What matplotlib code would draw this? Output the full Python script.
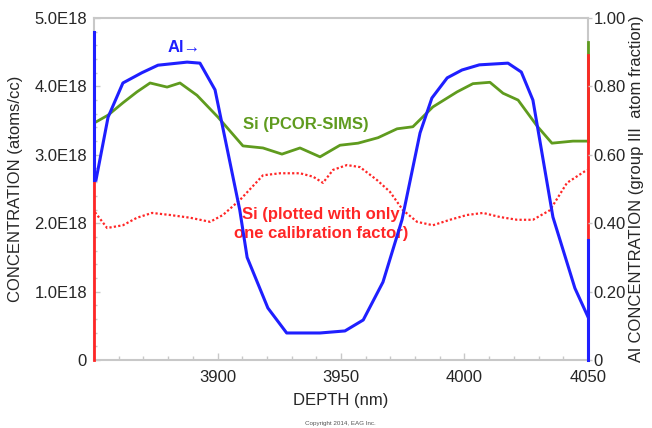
import matplotlib
matplotlib.use("Agg")
import matplotlib.pyplot as plt
from matplotlib.ticker import FixedLocator, MultipleLocator

plt.rcParams['font.family'] = ['Liberation Sans', 'DejaVu Sans']

# Al atom fraction (group III), right axis
al_depth = [3850.8, 3855.7, 3861.7, 3869.4, 3875.9, 3887.7, 3892.9, 3899.0,
            3909.0, 3912.0, 3920.4, 3928.0, 3941.5, 3951.6, 3959.0, 3967.0,
            3974.7, 3982.0, 3986.8, 3993.0, 3999.0, 4006.0, 4017.6, 4023.0,
            4027.7, 4035.8, 4044.7, 4050.0]
al_frac = [0.526, 0.71, 0.81, 0.84, 0.862, 0.871, 0.868, 0.79,
           0.439, 0.30, 0.152, 0.079, 0.079, 0.085, 0.117, 0.228,
           0.41, 0.664, 0.766, 0.825, 0.848, 0.863, 0.868, 0.842,
           0.76, 0.418, 0.21, 0.126]

# Si, PCOR-SIMS quantification (atoms/cc, units of 1E18)
si_pcor_depth = [3850.8, 3855.7, 3861.7, 3867.4, 3872.7, 3879.6, 3884.8, 3891.7,
                 3900.2, 3910.3, 3918.4, 3926.1, 3933.4, 3941.5, 3949.6, 3956.9,
                 3965.0, 3972.7, 3979.1, 3987.2, 3997.0, 4003.4, 4010.3, 4015.6,
                 4021.7, 4029.4, 4035.4, 4043.9, 4050.0]
si_pcor = [3.48, 3.58, 3.76, 3.92, 4.05, 3.99, 4.05, 3.87,
           3.55, 3.13, 3.10, 3.01, 3.10, 2.97, 3.14, 3.17,
           3.25, 3.38, 3.41, 3.70, 3.92, 4.04, 4.06, 3.90,
           3.80, 3.42, 3.17, 3.20, 3.20]

# Si with a single calibration factor (atoms/cc, units of 1E18)
si_single_depth = [3850.4, 3855.3, 3861.7, 3867.4, 3873.5, 3880.8, 3888.9, 3897.0,
                   3902.2, 3909.1, 3918.4, 3925.3, 3933.4, 3938.7, 3942.7, 3946.8,
                   3952.4, 3957.7, 3964.6, 3969.8, 3975.1, 3980.8, 3987.2, 3994.1,
                   4001.0, 4007.5, 4014.4, 4021.3, 4027.7, 4034.6, 4041.5, 4049.6]
si_single = [2.16, 1.93, 1.97, 2.08, 2.15, 2.12, 2.08, 2.02,
             2.12, 2.34, 2.70, 2.73, 2.73, 2.68, 2.59, 2.78,
             2.85, 2.82, 2.63, 2.46, 2.19, 2.02, 1.97, 2.05,
             2.12, 2.15, 2.09, 2.05, 2.05, 2.19, 2.59, 2.78]

# vertical runs at the profile ends
edge_left_depth = 3850.0
edge_right_depth = 4050.0
si_single_left = [0.0, 2.89]
al_left = [0.526, 0.959]
si_pcor_right = [3.20, 4.65]
si_single_right = [1.75, 4.46]
al_right = [0.0, 0.351]

depth_ticks = [3900, 3950, 4000, 4050]
conc_ticks = [0, 1, 2, 3, 4, 5]
conc_labels = ['0', '1.0E18', '2.0E18', '3.0E18', '4.0E18', '5.0E18']
frac_ticks = [0, 0.2, 0.4, 0.6, 0.8, 1.0]
frac_labels = ['0', '0.20', '0.40', '0.60', '0.80', '1.00']

BLUE = '#1f1fff'
GREEN = '#5f9b1e'
RED = '#ff2626'
SPINE = '#c8c8c8'
TXT = '#262626'

fig = plt.figure(figsize=(6.52, 4.28), dpi=100)
ax = fig.add_axes([94 / 652, 68 / 428, 494 / 652, 342 / 428])
ax2 = ax.twinx()

ax.set_xlim(3850, 4050)
ax.set_ylim(0, 5)
ax2.set_ylim(0, 1)

ax.plot(si_pcor_depth, si_pcor, color=GREEN, lw=2.0, zorder=3)
ax.plot(si_single_depth, si_single, color=RED, lw=1.6, ls=(0, (1, 1)), zorder=3)
ax.plot([edge_right_depth] * 2, si_pcor_right, color=GREEN, lw=2.0, zorder=4,
        clip_on=False)
ax.plot([edge_right_depth] * 2, si_single_right, color=RED, lw=2.0, zorder=5,
        clip_on=False)
ax.plot([edge_left_depth] * 2, si_single_left, color=RED, lw=2.0, zorder=5,
        clip_on=False)

ax2.plot(al_depth, al_frac, color=BLUE, lw=2.2, zorder=3)
ax2.plot([edge_left_depth] * 2, al_left, color=BLUE, lw=2.2, zorder=5,
         clip_on=False)
ax2.plot([edge_right_depth] * 2, al_right, color=BLUE, lw=2.2, zorder=5,
         clip_on=False)

for s in ax.spines.values():
    s.set_color(SPINE)
    s.set_linewidth(1.5)
for s in ax2.spines.values():
    s.set_visible(False)

ax.xaxis.set_major_locator(FixedLocator(depth_ticks))
ax.xaxis.set_minor_locator(MultipleLocator(10))
ax.set_yticks(conc_ticks)
ax.set_yticklabels(conc_labels)
ax.yaxis.set_minor_locator(MultipleLocator(0.2))
ax2.set_yticks(frac_ticks)
ax2.set_yticklabels(frac_labels)

ax.tick_params(axis='x', which='major', direction='in', length=5, width=1,
               color=SPINE, labelsize=12, labelcolor=TXT, pad=7)
ax.tick_params(axis='x', which='minor', direction='in', length=3, width=1,
               color=SPINE)
ax.tick_params(axis='y', which='major', direction='in', length=4, width=1,
               color=SPINE, labelsize=12, labelcolor=TXT, pad=5)
ax.tick_params(axis='y', which='minor', direction='in', length=2, width=1,
               color=SPINE)
ax2.tick_params(axis='y', which='major', direction='out', length=3, width=1,
                color=SPINE, labelsize=12, labelcolor=TXT, pad=1)

ax.set_xlabel('DEPTH (nm)', fontsize=12, color=TXT, labelpad=6)
ax.set_ylabel('CONCENTRATION (atoms/cc)', fontsize=12, color=TXT, labelpad=8)
ax2.set_ylabel('Al CONCENTRATION (group III  atom fraction)', fontsize=12,
               color=TXT, labelpad=2)

ax2.text(3886.4, 0.915, 'Al\u2192', color=BLUE, fontsize=12, fontweight='bold',
         ha='center', va='center')
ax.text(3935.8, 3.45, 'Si (PCOR-SIMS)', color=GREEN, fontsize=12,
        fontweight='bold', ha='center', va='center')
ax.text(3942, 1.99, 'Si (plotted with only\none calibration factor)',
        color=RED, fontsize=12, fontweight='bold', ha='center', va='center',
        linespacing=1.3)

fig.text(340 / 652, 1 - 423 / 428, 'Copyright 2014, EAG Inc.', fontsize=4.5,
         color='#555555', ha='center', va='center')

fig.savefig('out.png', dpi=100)
